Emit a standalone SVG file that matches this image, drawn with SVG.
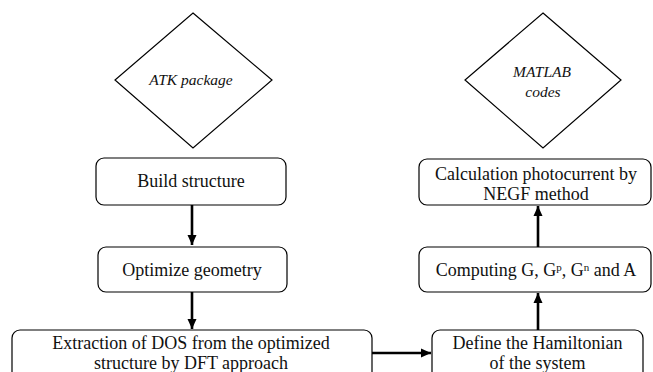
<svg xmlns="http://www.w3.org/2000/svg" width="653" height="372" viewBox="0 0 653 372">
<style>
.box{fill:#fff;stroke:#000;stroke-width:1.2}
.dia{fill:#fff;stroke:#000;stroke-width:1.2}
.t{font-family:"Liberation Serif","Times New Roman",serif;font-size:18px;fill:#111;text-anchor:middle}
.ti{font-family:"Liberation Serif","Times New Roman",serif;font-size:15.5px;font-style:italic;fill:#111;text-anchor:middle}
.sup{font-size:11px}
.conn line{stroke:#000;stroke-width:2.6}
</style>
<defs>
<marker id="ah" markerUnits="userSpaceOnUse" markerWidth="12" markerHeight="10" refX="10" refY="5" orient="auto">
<path d="M0,0.5 L10,5 L0,9.5 Z" fill="#000"/>
</marker>
</defs>
<rect width="653" height="372" fill="#fff"/>
<g id="atk">
<polygon class="dia" points="193,13 272,80 193,148 115,80"/>
<text class="ti" x="191" y="85">ATK package</text>
</g>
<g id="matlab">
<polygon class="dia" points="543,13 621,80 543,148 465,80"/>
<text class="ti" x="542" y="77">MATLAB</text>
<text class="ti" x="543" y="97">codes</text>
</g>
<g id="build">
<rect class="box" x="96" y="158" width="190" height="47" rx="8"/>
<text class="t" x="191" y="187">Build structure</text>
</g>
<g id="optimize">
<rect class="box" x="98" y="247" width="189" height="45" rx="8"/>
<text class="t" x="192" y="276">Optimize geometry</text>
</g>
<g id="extraction">
<rect class="box" x="12" y="330" width="360" height="50" rx="8"/>
<text class="t" x="191" y="349">Extraction of DOS from the optimized</text>
<text class="t" x="191" y="369">structure by DFT approach</text>
</g>
<g id="define">
<rect class="box" x="432" y="330" width="211" height="50" rx="8"/>
<text class="t" x="537.5" y="349">Define the Hamiltonian</text>
<text class="t" x="537.5" y="369">of the system</text>
</g>
<g id="computing">
<rect class="box" x="419" y="247" width="232" height="45" rx="8"/>
<text class="t" x="536" y="276">Computing G, G<tspan class="sup" dy="-5">p</tspan><tspan dy="5">, G</tspan><tspan class="sup" dy="-5">n</tspan><tspan dy="5"> and A</tspan></text>
</g>
<g id="calculation">
<rect class="box" x="419" y="159" width="232" height="46" rx="8"/>
<text class="t" x="536" y="180">Calculation photocurrent by</text>
<text class="t" x="536" y="200">NEGF method</text>
</g>
<g class="conn" id="connectors">
<line x1="192" y1="205" x2="192" y2="245" marker-end="url(#ah)"/>
<line x1="192" y1="292" x2="192" y2="329" marker-end="url(#ah)"/>
<line x1="372" y1="353" x2="431" y2="353" marker-end="url(#ah)"/>
<line x1="538" y1="330" x2="538" y2="293" marker-end="url(#ah)"/>
<line x1="538" y1="247" x2="538" y2="206" marker-end="url(#ah)"/>
</g>
</svg>
